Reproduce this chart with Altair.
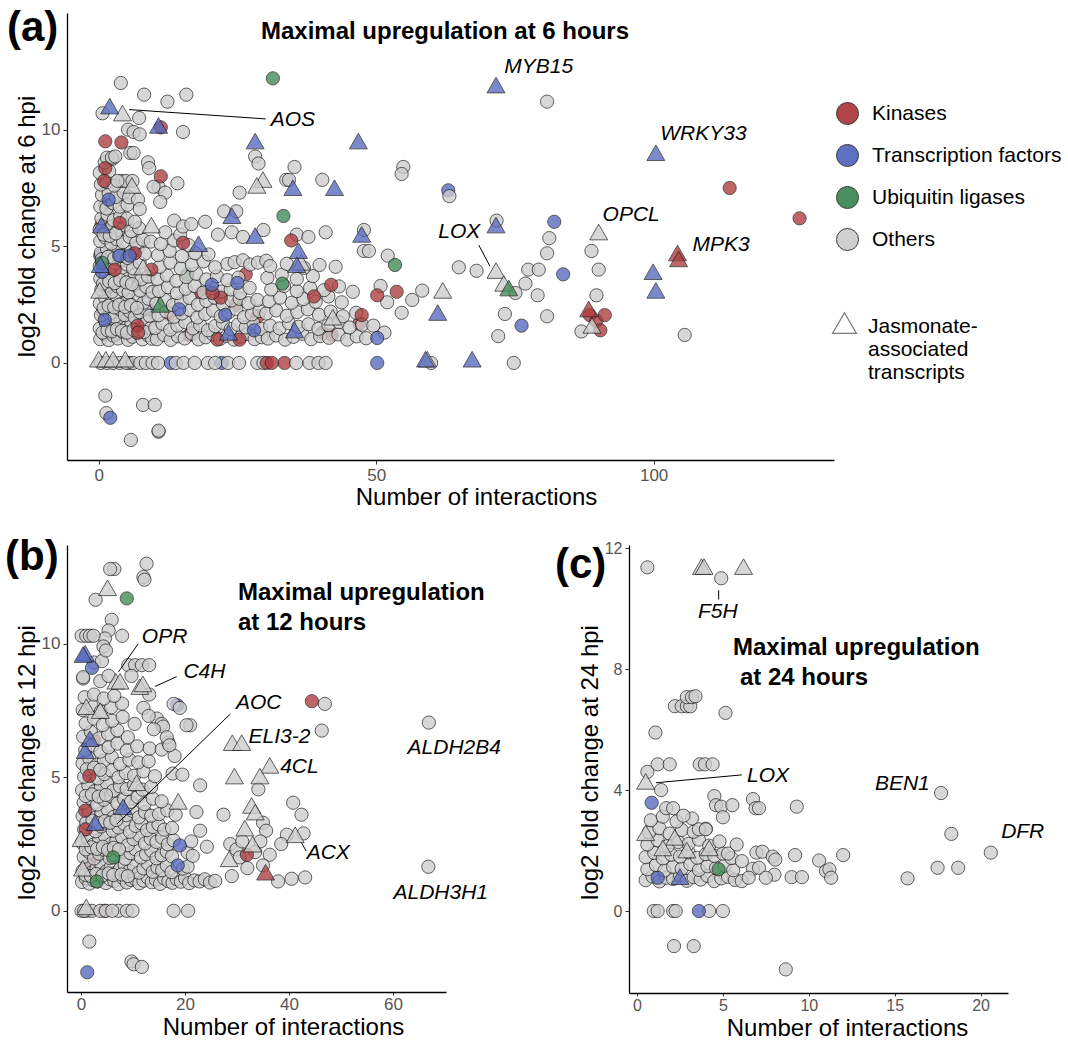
import altair as alt
import pandas as pd

FONT = "Liberation Sans"
CATS = ["Kinases", "Transcription factors", "Ubiquitin ligases", "Others"]
CAT_COLORS = ["#AD3B3E", "#5569BE", "#3F8A55", "#CDCDCD"]
JAS = ["no", "yes"]
TRIANGLE = "M0,-1.57L1.36,0.79L-1.36,0.79Z"

# ---------------- Panel (a): maximal upregulation at 6 hpi ----------------
A_OTHERS = [
    (0.3,1.02),(1.0,1.25),(1.8,0.98),(2.6,1.18),(3.5,1.05),(4.4,1.32),(5.3,0.99),(6.1,1.12),(7.0,1.28),(7.9,1.01),(8.8,1.2),(9.6,1.04),
    (0.2,1.48),(1.3,1.72),(2.2,1.41),(3.1,1.63),(4.0,1.8),(5.0,1.52),(5.9,1.69),(6.8,1.44),(7.6,1.58),(8.5,1.77),(9.4,1.5),
    (0.4,2.05),(1.1,2.28),(2.0,2.12),(2.9,1.98),(3.8,2.31),(4.7,2.05),(5.6,2.22),(6.5,1.96),(7.4,2.18),(8.3,2.35),(9.2,2.02),
    (0.2,2.55),(1.2,2.78),(2.3,2.6),(3.3,2.84),(4.2,2.52),(5.2,2.7),(6.1,2.48),(7.2,2.88),(8.1,2.58),(9.0,2.75),
    (0.5,3.15),(1.4,3.32),(2.4,3.05),(3.4,3.28),(4.4,3.12),(5.4,3.02),(6.4,3.35),(7.5,3.1),(8.6,3.26),(9.7,3.04),
    (0.3,3.62),(1.3,3.8),(2.2,3.55),(3.2,3.72),(4.3,3.88),(5.3,3.6),(6.5,3.78),(7.7,3.58),(8.9,3.7),
    (0.2,4.15),(1.1,4.35),(2.1,4.1),(3.0,4.28),(4.1,4.42),(5.1,4.22),(6.2,4.05),(7.4,4.3),
    (0.4,4.72),(1.5,4.9),(2.5,4.66),(3.6,4.82),(4.6,4.58),(5.8,4.75),(7.0,4.92),(8.3,4.68),
    (0.3,5.22),(1.2,5.38),(2.3,5.12),(3.3,5.3),(4.4,5.18),(5.6,5.4),(6.8,5.15),(8.0,5.28),(9.4,5.2),
    (0.2,5.72),(1.3,5.6),(2.4,5.85),(3.5,5.7),(4.6,5.9),(5.9,5.65),(7.3,5.78),
    (0.5,6.2),(1.6,6.35),(2.7,6.12),(3.9,6.28),(5.1,6.18),(6.5,6.05),
    (0.3,6.7),(1.4,6.62),(2.6,6.85),(3.8,6.7),(5.2,6.78),(0.6,7.2),(1.8,7.28),(3.1,7.12),(4.5,7.3),
    (0.4,7.65),(1.5,7.75),(2.8,7.6),(4.2,7.8),(0.2,8.15),(1.9,8.22),(1.1,8.6),(2.5,8.75),
    (0.7,1.3),(1.6,1.4),(2.4,1.35),(3.3,1.45),(4.2,1.38),(5.1,1.3),(6.3,1.42),(7.3,1.36),(8.2,1.33),
    (0.9,2.35),(1.8,2.45),(2.8,2.38),(3.7,2.5),(4.8,2.4),(5.8,2.48),(6.9,2.36),
    (0.8,3.4),(1.9,3.5),(2.9,3.42),(3.9,3.55),(5.0,3.45),(6.0,3.38),
    (0.6,4.45),(1.7,4.55),(2.8,4.48),(3.9,4.6),(5.2,4.5),(0.9,5.5),(2.0,5.45),(3.1,5.55),
    (10.5,1.02),(11.8,1.2),(13.0,0.99),(14.3,1.14),(15.5,1.05),(16.8,1.26),(18.0,1.01),(19.3,1.1),(20.6,1.22),(21.9,1.03),(23.1,1.16),(24.4,1.0),(25.6,1.12),(26.9,1.24),(28.1,1.02),(29.4,1.1),
    (10.2,1.5),(11.5,1.68),(12.9,1.42),(14.2,1.6),(15.6,1.75),(17.0,1.48),(18.3,1.62),(19.7,1.4),(21.0,1.58),(22.4,1.72),(23.8,1.45),(25.1,1.64),(26.5,1.52),(27.9,1.7),(29.3,1.46),
    (10.8,2.05),(12.2,2.2),(13.6,1.98),(15.0,2.12),(16.4,2.28),(17.8,1.95),(19.2,2.1),(20.6,2.25),(22.0,2.0),(23.4,2.16),(24.8,2.3),(26.2,1.96),(27.6,2.08),(29.0,2.22),
    (10.4,2.55),(11.9,2.7),(13.4,2.48),(14.9,2.62),(16.4,2.78),(17.9,2.5),(19.4,2.66),(20.9,2.8),(22.4,2.52),(23.9,2.68),(25.4,2.75),(27.0,2.56),(28.6,2.7),
    (10.9,3.08),(12.5,3.25),(14.1,3.0),(15.7,3.18),(17.3,3.3),(18.9,3.02),(20.5,3.2),(22.1,3.06),(23.8,3.15),(25.5,3.0),(27.2,3.22),
    (10.6,3.6),(12.3,3.75),(14.0,3.52),(15.8,3.68),(17.6,3.82),(19.4,3.58),(21.3,3.72),(23.2,3.55),(25.2,3.66),
    (11.0,4.12),(12.9,4.3),(14.8,4.05),(16.8,4.2),(18.9,4.35),(21.0,4.1),(23.2,4.24),(24.5,4.32),(26.0,4.4),(27.3,4.22),(28.7,4.3),(30.2,4.38),
    (10.7,4.62),(12.8,4.8),(15.0,4.58),(17.4,4.7),(19.8,4.65),(11.2,5.1),(13.6,5.25),(16.2,5.05),(12.0,5.6),(14.7,5.5),
    (30.5,1.05),(32.0,1.18),(33.6,1.0),(35.1,1.12),(36.7,1.25),(38.3,1.02),(39.9,1.15),(41.5,1.08),(43.2,1.22),(44.8,1.0),(46.5,1.14),(48.2,1.06),
    (30.9,1.6),(32.6,1.48),(34.3,1.7),(36.0,1.55),(37.8,1.66),(39.6,1.46),(41.4,1.62),(43.3,1.75),(45.2,1.52),(47.5,1.64),
    (30.2,2.12),(32.0,2.25),(33.9,2.02),(35.8,2.18),(37.7,2.3),(39.7,2.06),(41.8,2.2),(44.0,2.0),(46.4,2.15),
    (30.7,2.65),(32.7,2.8),(34.8,2.58),(36.9,2.74),(39.1,2.62),(41.4,2.85),(43.8,2.6),
    (31.1,3.15),(33.4,3.3),(35.7,3.08),(38.1,3.22),(40.6,3.12),(43.3,3.28),(45.8,3.05),
    (30.4,3.65),(33.0,3.78),(35.7,3.6),(38.6,3.72),(30.9,4.15),(33.9,4.25),(37.0,4.08),(39.8,4.2),(42.7,4.12),
    (0.7,10.7),(4.0,12.0),(8.2,11.5),(12.4,11.2),(15.8,11.5),(7.3,10.5),(5.3,10.0),(6.3,9.9),(7.4,9.8),(15.2,9.9),
    (5.7,9.0),(6.3,9.0),(1.5,8.8),(2.4,8.8),(3.0,8.85),(8.9,8.6),(9.1,8.35),(14.2,7.7),(10.8,7.55),(9.9,7.55),
    (12.0,7.3),(11.1,6.9),(4.9,7.8),(3.4,7.8),(6.1,7.8),(5.5,7.1),(7.1,7.0),(7.4,6.6),(22.6,6.5),(24.8,6.5),
    (28.2,8.85),(28.8,8.55),(35.3,8.4),(40.3,7.85),(33.8,7.85),(34.3,7.85),(25.4,7.3),(54.9,8.4),(54.6,8.1),
    (63.2,7.15),(71.7,6.1),(40.9,5.6),(35.7,5.5),(37.8,5.4),(29.7,5.7),(47.8,5.7),(47.8,4.8),(48.7,4.8),
    (13.6,6.1),(15.2,5.85),(16.7,5.95),(19.2,6.05),(21.5,5.5),(24.0,5.6),(26.0,5.4),(52.1,4.6),(64.9,4.1),
    (68.1,3.95),(75.1,3.0),(76.9,3.4),(77.4,4.0),(79.3,4.0),(73.2,2.1),(72.0,1.15),(74.8,0.0),(80.8,11.2),
    (81.2,5.35),(80.8,4.7),(88.8,4.8),(90.1,4.0),(89.7,2.9),(80.8,2.0),(87.0,1.35),(105.6,1.2),(56.5,2.7),
    (58.3,3.1),(54.6,2.15),(79.1,2.9),(52.0,2.6),(50.8,3.3),(49.5,1.6),(51.5,1.3),
    (0.4,0.0),(1.5,0.0),(2.6,0.0),(3.8,0.0),(5.0,0.0),(6.2,0.0),(7.5,0.0),(8.5,0.0),(9.7,0.0),(10.7,0.0),
    (13.9,0.0),(15.3,0.0),(17.3,0.0),(19.7,0.0),(21.0,0.0),(23.3,0.0),(25.3,0.0),(28.6,0.0),(29.7,0.0),
    (35.6,0.0),(38.0,0.0),(39.6,0.0),(40.9,0.0),(59.9,0.0),
    (1.2,-1.4),(1.4,-2.15),(8.0,-1.8),(10.1,-1.8),(10.8,-2.95),(10.8,-2.9),(5.8,-3.3),
]
A_KIN_UNDER = [(0.5,5.9),(3.0,1.2),(4.5,2.6),(16.3,1.2),(18.5,3.0),(26.5,3.8),(24.7,2.5),(28.7,2.0),
               (40.3,1.3),(33.5,0.0),(5.5,0.0),(12.6,2.1),(1.5,3.2),(0.8,2.2),(2.2,1.6),(47.0,1.7),(42.0,1.2)]
A_TF_UNDER = [(22.2,0.0),(13.0,0.0),(1.2,6.8),(63.0,7.4),(9.0,2.3),(0.3,4.6)]
A_UBQ_UNDER = [(4.0,1.8),(16.0,3.8)]
A_KIN = [(1.2,9.5),(4.1,9.45),(1.2,8.35),(11.2,8.0),(1.0,7.8),(11.2,10.1),(3.8,6.0),(15.2,5.15),(34.7,5.25),
         (2.9,4.0),(9.5,4.0),(6.5,4.7),(7.0,1.6),(7.1,1.3),(22.0,2.8),(20.5,3.0),(21.4,1.0),(25.4,1.0),
         (38.8,2.85),(41.9,3.35),(47.4,2.05),(50.2,2.9),(53.7,3.05),(30.3,0.0),(31.2,0.0),
         (88.5,2.05),(89.7,1.8),(90.4,1.4),(91.2,2.05),(113.7,7.5),(126.3,6.2)]
A_TF = [(1.8,7.0),(1.1,1.85),(20.4,3.35),(22.8,2.06),(25.0,3.43),(50.2,1.07),(50.2,0.0),(3.7,4.6),(5.6,4.6),
        (82.1,6.05),(83.7,3.8),(76.2,1.6),(2.1,-2.35),(0.6,3.9),(14.5,2.3),(28.0,1.4)]
A_UBQ = [(31.4,12.2),(33.3,6.3),(53.4,4.2),(33.1,3.4),(0.6,4.3)]
A_JA_OTHERS = [(4.3,10.6),(29.6,7.75),(28.5,7.5),(9.5,5.8),(8.0,4.0),(6.0,7.5),(42.2,1.85),(62.0,3.0),
               (71.6,3.85),(90.1,5.5),(88.9,1.5),(59.2,0.05),(0.0,0.05),(1.3,0.05),(2.6,0.05),(4.8,0.05),
               (73.0,3.3),(0.2,3.0),(36.5,4.2)]
A_JA_TF = [(2.0,10.9),(10.8,10.07),(28.2,9.4),(46.8,9.4),(35.0,7.4),(42.5,7.4),(24.0,6.2),(28.2,5.35),
           (47.4,5.4),(18.0,5.0),(36.0,4.7),(35.7,4.1),(35.3,1.3),(23.4,1.2),(61.1,2.05),(58.9,0.05),
           (67.3,0.05),(71.6,11.8),(71.6,5.8),(100.4,8.9),(99.9,3.8),(100.4,3.0),(0.5,5.8),(0.3,4.1)]
A_JA_KIN = [(104.3,4.6),(104.5,4.35),(88.3,2.2)]
A_JA_UBQ = [(11.1,2.4),(73.9,3.1)]
A_LABELS = [("AOS",31.0,10.43),("MYB15",73.1,12.7),("WRKY33",101.2,9.8),("OPCL",90.8,6.35),
            ("MPK3",107.0,5.05),("LOX",61.2,5.6)]
A_SEGS = [(5.5,10.86,30.1,10.46),(68.5,5.05,70.5,4.15)]

# ---------------- Panel (b): maximal upregulation at 12 hpi ----------------
B_OTHERS = [
    (0.2,1.08),(0.9,1.22),(1.6,1.02),(2.4,1.15),(3.2,1.1),(4.0,1.26),(4.8,1.04),(5.6,1.18),(6.4,1.12),(7.2,1.0),(8.0,1.24),
    (8.8,1.06),(9.6,1.16),(10.4,1.2),(11.2,1.03),(12.0,1.13),(12.8,1.25),(13.6,1.07),(14.4,1.17),(15.2,1.01),(16.0,1.21),
    (16.8,1.11),(17.6,1.05),(18.4,1.19),(19.2,1.09),(20.0,1.23),(20.8,1.04),(21.8,1.14),(22.8,1.1),(23.8,1.18),(24.8,1.06),(25.8,1.12),
    (0.3,1.5),(1.2,1.68),(2.1,1.44),(3.0,1.6),(3.9,1.74),(4.8,1.47),(5.7,1.63),(6.6,1.41),(7.5,1.57),(8.4,1.72),(9.3,1.49),
    (10.2,1.66),(11.1,1.43),(12.0,1.59),(12.9,1.76),(13.8,1.46),(14.7,1.62),(15.6,1.52),(16.5,1.7),(17.4,1.45),(19.6,1.58),(20.5,1.65),
    (0.5,2.02),(1.5,2.2),(2.5,1.96),(3.5,2.14),(4.5,2.28),(5.5,1.98),(6.5,2.1),(7.5,2.24),(8.5,1.95),(9.5,2.16),
    (10.5,2.3),(11.5,2.0),(12.5,2.12),(13.5,2.26),(14.5,1.97),(15.5,2.08),(16.5,2.22),(17.5,2.04),(20.5,2.18),(21.5,2.06),
    (0.2,2.55),(1.3,2.72),(2.4,2.48),(3.5,2.66),(4.6,2.8),(5.7,2.5),(6.8,2.62),(7.9,2.76),(9.0,2.46),(10.1,2.68),
    (11.2,2.82),(12.3,2.52),(13.4,2.7),(14.5,2.58),(15.6,2.74),(16.7,2.49),(17.8,2.64),(21.2,2.6),
    (0.6,3.05),(1.7,3.22),(2.8,2.98),(3.9,3.16),(5.0,3.3),(6.1,3.0),(7.2,3.12),(8.3,3.26),(9.4,2.96),(10.5,3.18),
    (11.6,3.28),(12.7,3.02),(13.8,3.14),(14.9,3.24),(16.0,3.04),(17.5,3.1),
    (0.3,3.55),(1.5,3.72),(2.7,3.48),(3.9,3.66),(5.1,3.8),(6.3,3.52),(7.5,3.68),(8.7,3.58),(9.9,3.74),(11.1,3.5),
    (12.3,3.7),(13.5,3.56),(15.0,3.62),(16.6,3.76),(18.2,3.6),
    (0.5,4.05),(1.8,4.22),(3.1,3.98),(4.4,4.16),(5.7,4.3),(7.0,4.02),(8.3,4.18),(9.6,4.08),(10.9,4.26),(12.2,4.0),(13.8,4.2),(15.5,4.1),
    (0.2,4.52),(1.4,4.7),(2.6,4.48),(3.8,4.62),(5.0,4.78),(6.2,4.5),(7.5,4.66),(8.8,4.56),(10.2,4.72),(11.8,4.54),(13.5,4.64),
    (0.6,5.02),(1.9,5.2),(3.2,4.96),(4.5,5.12),(5.8,5.26),(7.2,5.0),(8.6,5.16),(10.2,5.06),(12.0,5.22),(14.2,5.04),(17.6,5.14),
    (0.3,5.52),(1.6,5.7),(3.0,5.46),(4.4,5.62),(5.9,5.76),(7.5,5.5),(9.3,5.66),(11.0,5.56),(13.0,5.6),
    (0.8,6.02),(2.2,6.2),(3.7,5.96),(5.3,6.12),(7.0,6.26),(8.8,6.0),(10.8,6.16),(13.2,6.08),(15.5,6.04),(16.8,6.3),
    (0.4,6.52),(1.9,6.7),(3.5,6.46),(5.2,6.62),(7.0,6.76),(9.0,6.5),
    (0.9,7.02),(2.5,7.2),(4.2,6.96),(6.0,7.12),(8.0,7.26),(10.3,7.0),
    (0.3,7.52),(2.0,7.7),(3.8,7.46),(5.8,7.62),(7.9,7.76),
    (0.7,8.0),(2.5,8.1),(4.4,7.95),(6.4,8.05),(0.4,8.7),(3.7,8.6),(5.3,8.8),(2.5,9.3),(4.0,9.35),
    (0.8,1.35),(1.9,1.3),(2.9,1.38),(4.1,1.32),(5.3,1.4),(6.2,1.34),(7.8,1.36),(9.0,1.3),
    (0.9,2.3),(2.0,2.38),(3.1,2.32),(4.2,2.4),(5.2,2.28),(6.3,2.36),(7.3,2.3),
    (1.0,3.3),(2.2,3.38),(3.4,3.28),(4.6,3.36),(5.6,3.3),(6.8,3.4),
    (0.9,4.3),(2.1,4.36),(3.4,4.28),(4.8,4.34),(1.1,5.3),(2.5,5.36),(3.7,5.28),
    (6.4,12.8),(5.6,12.8),(12.6,13.0),(12.0,12.5),(12.2,12.4),(2.8,11.65),(5.9,10.9),(5.3,10.5),(4.6,10.2),
    (7.9,10.3),(4.3,9.9),(4.8,9.75),(0.1,10.3),(1.0,10.3),(1.7,10.3),(2.4,10.3),(0.4,8.75),(9.1,9.2),
    (10.4,9.2),(11.7,9.2),(13.1,9.2),(9.7,8.8),(13.1,8.1),(14.6,7.2),(15.5,7.0),(15.8,6.9),(21.0,6.95),
    (20.3,6.95),(17.8,7.75),(19.0,7.6),(46.9,7.75),(46.3,6.75),(66.9,7.05),(66.8,1.65),(34.1,4.55),
    (40.8,4.05),(42.4,3.6),(42.8,2.9),(39.6,2.85),(27.4,3.6),(28.7,2.5),(29.9,2.3),(30.5,2.0),(37.9,1.1),
    (40.5,1.2),(43.1,1.25),(29.0,1.3),(22.9,3.0),(22.2,3.7),(22.9,4.7),(24.2,2.4),(1.6,-1.15),(9.7,-1.9),
    (10.1,-2.0),(11.7,-2.1),(35.0,3.3),(35.6,3.0),(34.5,2.6),(36.3,2.1),(35.0,1.7),(32.0,1.6),(33.5,2.2),
    (31.0,2.6),(38.5,2.5),(19.5,5.1),(18.0,5.8),(16.5,6.5),(17.0,6.2),(14.0,6.8),(12.0,7.6),(13.0,7.3),
    (0.1,0.0),(1.1,0.0),(2.1,0.0),(3.7,0.0),(4.8,0.0),(7.2,0.0),(8.8,0.0),(9.9,0.0),(17.8,0.0),(20.6,0.0),(0.6,0.0),(6.0,0.0),
]
B_KIN_UNDER = [(2.5,6.4),(1.8,1.7),(5.8,1.3),(4.5,0.0),(3.0,2.0)]
B_TF_UNDER = [(18.5,7.7)]
B_KIN = [(44.4,7.85),(1.6,5.05),(0.8,3.75),(0.9,3.05),(31.9,2.1)]
B_TF = [(2.1,9.1),(19.0,2.45),(18.6,1.7),(1.2,-2.3)]
B_UBQ = [(8.8,11.7),(6.2,2.0),(3.0,1.1)]
B_JA_OTHERS = [(5.1,12.0),(6.7,8.5),(7.5,8.5),(11.3,8.3),(11.9,8.4),(29.1,6.2),(30.9,6.2),(29.5,4.95),
               (36.3,5.35),(34.4,4.95),(32.8,3.85),(33.5,3.6),(31.5,3.0),(41.2,2.75),(28.5,1.85),(1.0,7.55),
               (3.7,7.4),(10.7,4.7),(18.7,4.0),(0.0,2.6),(0.3,1.5),(1.0,0.05),(33.0,2.4)]
B_JA_TF = [(0.8,9.55),(0.4,9.5),(0.8,5.9),(1.7,6.35),(2.7,3.2),(8.1,3.8)]
B_JA_KIN = [(35.5,1.35)]
B_LABELS = [("OPR",11.7,10.27),("C4H",19.7,8.93),("AOC",29.8,7.8),("ELI3-2",32.2,6.5),("4CL",38.3,5.37),
            ("ACX",43.4,2.18),("ALDH2B4",62.8,6.1),("ALDH3H1",60.1,0.68)]
B_SEGS = [(7.2,8.95,11.0,10.0),(14.2,8.4,18.4,8.77),(6.9,3.25,28.7,7.37),(42.4,2.55,43.3,2.24)]

# ---------------- Panel (c): maximal upregulation at 24 hpi ----------------
C_OTHERS = [
    (0.5,1.02),(0.9,1.14),(1.3,0.98),(1.7,1.1),(2.1,1.06),(2.5,1.18),(2.9,1.0),(3.3,1.12),(3.7,1.04),(4.1,1.16),(4.5,0.99),(4.9,1.08),(5.3,1.13),(5.7,1.03),
    (0.6,1.38),(1.1,1.52),(1.6,1.34),(2.1,1.46),(2.6,1.4),(3.1,1.55),(3.6,1.36),(4.1,1.48),(4.6,1.42),(5.1,1.5),(5.6,1.35),
    (0.5,1.78),(1.0,1.92),(1.5,1.74),(2.0,1.86),(2.5,1.8),(3.0,1.94),(3.5,1.76),(4.0,1.88),(4.5,1.82),(5.0,1.9),(5.5,1.75),
    (0.6,2.2),(1.2,2.34),(1.8,2.15),(2.4,2.28),(3.0,2.22),(3.6,2.36),(4.2,2.16),(4.8,2.3),
    (0.7,2.6),(1.3,2.74),(1.9,2.56),(2.6,2.68),(3.3,2.62),(4.0,2.72),
    (0.8,3.0),(1.5,3.12),(2.3,2.96),(3.2,3.06),
    (0.6,11.36),(4.9,11.0),(1.07,5.9),(2.2,6.77),(2.6,6.77),(2.9,6.77),(3.1,6.77),(2.9,7.07),(3.2,7.07),(3.4,7.1),
    (5.15,6.55),(0.6,4.6),(1.2,4.85),(1.9,4.85),(3.65,4.85),(3.95,4.85),(4.4,4.85),(1.4,4.0),(1.7,3.4),(2.1,3.4),
    (2.7,3.15),(4.5,3.8),(4.6,3.5),(4.9,3.45),(5.55,3.5),(5.0,3.1),(6.75,3.7),(6.9,3.4),(7.1,3.4),(9.3,3.45),
    (17.7,3.9),(18.3,2.55),(20.6,1.93),(17.5,1.43),(18.7,1.43),(15.75,1.08),(12.0,1.85),(10.6,1.67),(11.0,1.32),
    (11.2,1.38),(11.3,1.1),(9.2,1.85),(9.0,1.12),(9.6,1.12),(6.95,1.93),(7.3,1.96),(7.9,1.8),(8.05,1.7),
    (6.75,1.4),(7.1,1.43),(8.0,1.2),(6.1,1.65),(6.1,0.99),(8.66,-1.93),(2.15,-1.16),(3.3,-1.16),
    (0.97,0.0),(1.2,0.0),(2.1,0.0),(2.25,0.0),(4.2,0.0),(5.0,0.0),(3.6,2.7),(4.0,2.7),(5.3,1.9),(5.8,2.2),(6.5,1.1),(7.5,1.1),
]
C_TF = [(0.85,3.58),(1.2,1.1),(3.6,0.0)]
C_UBQ = [(4.75,1.38)]
C_JA_OTHERS = [(3.75,11.3),(3.9,11.3),(6.2,11.3),(0.5,4.2),(0.5,2.5),(2.9,1.93),(4.2,2.0),(2.2,2.35),(1.5,2.0)]
C_JA_TF = [(2.5,1.05)]
C_LABELS = [("F5H",3.55,9.9),("LOX",6.4,4.46),("BEN1",13.85,4.2),("DFR",21.2,2.6)]
C_SEGS = [(4.75,10.6,4.75,10.3),(1.1,4.24,6.1,4.5)]


def points_df(groups):
    rows = []
    for cat, jas, pts in groups:
        for x, y in pts:
            rows.append({"x": x, "y": y, "cat": cat, "jas": jas})
    return pd.DataFrame(rows)


def labels_df(items):
    return pd.DataFrame([{"label": t, "x": x, "y": y} for t, x, y in items])


def segs_df(items):
    return pd.DataFrame([{"x": a, "y": b, "x2": c, "y2": d} for a, b, c, d in items])


def panel(df, labs, segs, xdom, ydom, xticks, yticks, w, h, ytitle, titleX, titleY,
          lab_fs, titles, letter, letter_xy, with_legend, xpad):
    xs = alt.Scale(domain=xdom, nice=False, zero=False)
    ys = alt.Scale(domain=ydom, nice=False, zero=False)
    lp, tp, ts = xpad
    xax = alt.Axis(values=xticks, title="Number of interactions", titleX=titleX,
                   labelFontSize=lab_fs, format="d", labelPadding=lp, titlePadding=tp, tickSize=ts)
    yax = alt.Axis(values=yticks, title=ytitle, titleY=titleY, labelFontSize=lab_fs, format="d")
    if with_legend:
        fill_leg = alt.Legend(title=None, orient="none", legendX=769, legendY=89, padding=0,
                              symbolType="circle", symbolSize=484, symbolStrokeColor="#333333",
                              symbolStrokeWidth=1, symbolOpacity=0.95, labelFontSize=21,
                              labelFont=FONT, labelOffset=13, rowPadding=15, labelColor="black",
                              labelLimit=400)
        shape_leg = alt.Legend(title=None, orient="none", legendX=767, legendY=303, padding=0,
                               values=["yes"], symbolSize=310, symbolFillColor="white",
                               symbolStrokeColor="#555555", symbolStrokeWidth=1.2,
                               labelFontSize=21, labelFont=FONT, labelOffset=13, labelColor="black",
                               labelLimit=400, labelBaseline="middle",
                               labelExpr="['Jasmonate-', 'associated', 'transcripts']")
    else:
        fill_leg = None
        shape_leg = None
    pts = alt.Chart(df).mark_point(filled=True, size=175, stroke="#1c1c1c", strokeWidth=0.9,
                                   opacity=0.78).encode(
        x=alt.X("x:Q", scale=xs, axis=xax),
        y=alt.Y("y:Q", scale=ys, axis=yax),
        fill=alt.Fill("cat:N", scale=alt.Scale(domain=CATS, range=CAT_COLORS), legend=fill_leg),
        shape=alt.Shape("jas:N", scale=alt.Scale(domain=JAS, range=["circle", TRIANGLE]), legend=shape_leg),
    )
    rules = alt.Chart(segs).mark_rule(color="black", strokeWidth=1).encode(
        x=alt.X("x:Q", scale=xs, axis=xax), y=alt.Y("y:Q", scale=ys, axis=yax),
        x2="x2:Q", y2="y2:Q")
    texts = alt.Chart(labs).mark_text(align="left", baseline="middle", fontStyle="italic",
                                      fontSize=21, font=FONT, color="black").encode(
        x=alt.X("x:Q", scale=xs, axis=xax), y=alt.Y("y:Q", scale=ys, axis=yax), text="label:N")
    layers = [pts, rules, texts]
    for t, px, py, al in titles:
        layers.append(alt.Chart(pd.DataFrame({"t": [t]})).mark_text(
            align=al, baseline="middle", fontSize=24, fontWeight="bold", font=FONT, color="black").encode(
            x=alt.value(px), y=alt.value(py), text="t:N"))
    layers.append(alt.Chart(pd.DataFrame({"t": [letter]})).mark_text(
        align="left", baseline="middle", fontSize=42, fontWeight="bold", font=FONT, color="black").encode(
        x=alt.value(letter_xy[0]), y=alt.value(letter_xy[1]), text="t:N"))
    return alt.layer(*layers).properties(width=w, height=h)


dfa = points_df([
    ("Kinases", "no", A_KIN_UNDER), ("Transcription factors", "no", A_TF_UNDER),
    ("Ubiquitin ligases", "no", A_UBQ_UNDER), ("Others", "no", A_OTHERS),
    ("Kinases", "no", A_KIN), ("Transcription factors", "no", A_TF), ("Ubiquitin ligases", "no", A_UBQ),
    ("Others", "yes", A_JA_OTHERS), ("Transcription factors", "yes", A_JA_TF),
    ("Kinases", "yes", A_JA_KIN), ("Ubiquitin ligases", "yes", A_JA_UBQ),
])
dfb = points_df([
    ("Kinases", "no", B_KIN_UNDER), ("Transcription factors", "no", B_TF_UNDER),
    ("Others", "no", B_OTHERS), ("Kinases", "no", B_KIN), ("Transcription factors", "no", B_TF),
    ("Ubiquitin ligases", "no", B_UBQ), ("Others", "yes", B_JA_OTHERS),
    ("Transcription factors", "yes", B_JA_TF), ("Kinases", "yes", B_JA_KIN),
])
dfc = points_df([
    ("Others", "no", C_OTHERS), ("Transcription factors", "no", C_TF), ("Ubiquitin ligases", "no", C_UBQ),
    ("Others", "yes", C_JA_OTHERS), ("Transcription factors", "yes", C_JA_TF),
])

pa = panel(dfa, labels_df(A_LABELS), segs_df(A_SEGS), [-5.7, 132.5], [-4.16, 15.0], [0, 50, 100], [0, 5, 10],
           767, 447, "log2 fold change at 6 hpi", 409, 213, 17,
           [("Maximal upregulation at 6 hours", 378, 19, "center")], "(a)", (-60, 15), True, (3, 2, 4))
pb = panel(dfb, labels_df(B_LABELS), segs_df(B_SEGS), [-2.7, 70.2], [-3.04, 13.7], [0, 20, 40, 60], [0, 5, 10],
           379, 447, "log2 fold change at 12 hpi", 216, 217, 17,
           [("Maximal upregulation", 171, 48, "left"), ("at 12 hours", 171, 78, "left")], "(b)", (-62, 12), False,
           (1, 3, 3))
pc = panel(dfc, labels_df(C_LABELS), segs_df(C_SEGS), [-0.47, 21.6], [-2.71, 12.1], [0, 5, 10, 15, 20], [0, 4, 8, 12],
           379, 448, "log2 fold change at 24 hpi", 218, 217, 16,
           [("Maximal upregulation", 104, 103, "left"), ("at 24 hours", 111, 133, "left")], "(c)", (-74, 20), False,
           (1, 3, 3))

bottom = alt.hconcat(pb, pc, spacing=183, bounds="flush").resolve_scale(
    fill="independent", shape="independent")
chart = alt.vconcat(pa, bottom, spacing=85, bounds="flush").resolve_scale(
    fill="independent", shape="independent"
).properties(
    padding={"left": 5, "top": 7, "right": 0, "bottom": 0}
).configure(font=FONT).configure_view(stroke=None).configure_axis(
    grid=False, domainColor="black", domainWidth=1.3, tickColor="#333333", tickWidth=1, tickSize=4,
    labelColor="#555555", labelPadding=3, labelFont=FONT, titleFont=FONT, titleFontSize=24,
    titleFontWeight="normal", titleColor="black", titlePadding=2
)

chart.save("out.html", embed_options={"renderer": "svg", "actions": False})
